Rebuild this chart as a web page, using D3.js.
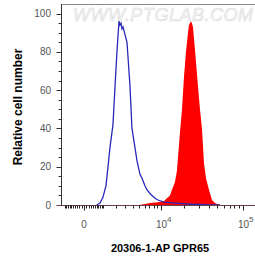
<!DOCTYPE html>
<html>
<head>
<meta charset="utf-8">
<script src="https://cdn.jsdelivr.net/npm/d3@7"></script>
<style>
  body { margin: 0; background: #fff; }
  svg { display: block; }
</style>
</head>
<body>
<script>
// histogram overlay, logicle-like x axis (approximated with symlog)

var width = 255,
    height = 257;

// blue = control, red = stained sample
var controlX   = [600, 800, 980, 1190, 1340, 1490, 1740, 1920, 2100, 2300, 2400, 2510, 2610, 2730, 2960, 3200, 3590, 3860, 4310, 4630, 5140, 5500, 6070, 6480, 7150, 7620, 8380, 9190, 11040, 13210, 15300, 17680, 21000, 25000, 31100, 41000, 54000];
var controlCnt = [0,   1,   4,   10,   20,   30,   42,   62,   80,   96,   94,   95,   92,   93,   89,   85,   62,   40,   30,   23,   16,   14,   10,   8,    6,    5,    3.5,  2.6,  1.5,   1.2,   1,     0.8,   0.6,   0.4,   0.3,   0.1,   0];

var sampleX   = [5000, 6070, 7150, 9190, 11040, 11380, 13210, 14010, 15300, 16210, 17680, 18740, 19830, 21000, 22230, 22850, 23500, 24180, 24870, 25590, 27070, 29430, 31110, 32880, 34780, 36760, 39910, 43350, 47080, 51080, 54000];
var sampleCnt = [0,    0.5,  1,    1.5,  2,     2.6,   5,     8,     12,    18,    38,    50,    67,    80,    90,    94,    95,    96,    95,    93,    81,    62,    50,    40,    22,    14,    8,     2.6,   1,     0.3,   0];

var xMin = -1260, xMax = 139000;
var yMax = 105;
var yTicks = [0, 20, 40, 60, 80, 100];
var xMajor = [0, 1e4, 1e5];
var xMajorLabels = [["0", ""], ["10", "4"], ["10", "5"]];

var margin = {left: 61, top: 4, right: 0, bottom: 52};

var x = d3.scaleSymlog().constant(1500)
    .domain([xMin, xMax])
    .range([margin.left, width - margin.right]);

var y = d3.scaleLinear()
    .domain([0, yMax])
    .range([height - margin.bottom, margin.top]);

var svg = d3.select("body").append("svg")
    .attr("width", width)
    .attr("height", height)
    .style("font-family", "'Liberation Sans', Arial, sans-serif");

svg.append("defs").append("clipPath").attr("id", "plot")
  .append("rect")
    .attr("x", margin.left).attr("y", margin.top)
    .attr("width", width - margin.left).attr("height", y(0) - margin.top + 0.5);

// watermark
svg.append("text")
    .attr("x", 73).attr("y", 21)
    .attr("textLength", 180)
    .attr("lengthAdjust", "spacing")
    .style("font-size", "18px")
    .style("font-style", "italic")
    .style("fill", "#f6f6f6")
    .style("stroke", "#d6d6d6")
    .style("stroke-width", 0.5)
    .text("WWW.PTGLAB.COM");

var g = svg.append("g").attr("clip-path", "url(#plot)");

var sample = sampleX.map((v, i) => [v, sampleCnt[i]]);
var control = controlX.map((v, i) => [v, controlCnt[i]]);

g.append("path")
    .datum(sample)
    .attr("fill", "#ff0000")
    .attr("d", d3.area().x(d => x(d[0])).y0(y(0)).y1(d => y(d[1])));

g.append("path")
    .datum(control)
    .attr("fill", "none")
    .attr("stroke", "#2828b8")
    .attr("stroke-width", 1.3)
    .attr("d", d3.line().x(d => x(d[0])).y(d => y(d[1])));

// top frame
svg.append("line")
    .attr("x1", margin.left).attr("x2", width)
    .attr("y1", margin.top + 0.5).attr("y2", margin.top + 0.5)
    .attr("stroke", "#8a8a8a");

// y axis
var yMinor = d3.range(0, 101, 5).filter(v => v % 20 != 0);
var yAxis = svg.append("g").attr("transform", "translate(" + (margin.left + 0.5) + ",0)");
yAxis.append("line")
    .attr("y1", margin.top).attr("y2", y(0))
    .attr("stroke", "#333");
yAxis.selectAll(".maj").data(yTicks).enter().append("line")
    .attr("x1", -5).attr("x2", 0)
    .attr("y1", d => Math.round(y(d)) + 0.5).attr("y2", d => Math.round(y(d)) + 0.5)
    .attr("stroke", "#333");
yAxis.selectAll(".min").data(yMinor).enter().append("line")
    .attr("x1", -3).attr("x2", 0)
    .attr("y1", d => Math.round(y(d)) + 0.5).attr("y2", d => Math.round(y(d)) + 0.5)
    .attr("stroke", "#333");
yAxis.selectAll("text").data(yTicks).enter().append("text")
    .attr("x", -10.5).attr("y", d => y(d) + 3.5)
    .attr("text-anchor", "end")
    .style("font-size", "10px")
    .style("fill", "#555")
    .text(d => d);

// x axis
var xMinor = d3.range(-1000, 1001, 100).filter(v => v != 0)
    .concat(d3.range(2000, 10000, 1000))
    .concat(d3.range(20000, 100000, 10000));
var x0 = Math.round(y(0)) + 0.5;
var xAxis = svg.append("g");
xAxis.append("line")
    .attr("x1", margin.left - 4).attr("x2", width)
    .attr("y1", x0).attr("y2", x0)
    .attr("stroke", "#6a4048");
xAxis.selectAll(".min").data(xMinor).enter().append("line")
    .attr("x1", d => Math.round(x(d)) + 0.5).attr("x2", d => Math.round(x(d)) + 0.5)
    .attr("y1", x0).attr("y2", x0 + 3)
    .attr("stroke", "#222");
xAxis.selectAll(".maj").data(xMajor).enter().append("line")
    .attr("x1", d => Math.round(x(d)) + 0.5).attr("x2", d => Math.round(x(d)) + 0.5)
    .attr("y1", x0).attr("y2", x0 + 5)
    .attr("stroke", "#222");
var lab = xAxis.selectAll(".lab").data(xMajor).enter().append("text")
    .attr("x", (d, i) => x(d) + (i ? 3 : 0))
    .attr("y", 228)
    .attr("text-anchor", "middle")
    .style("font-size", "10px")
    .style("fill", "#555");
lab.append("tspan").text((d, i) => xMajorLabels[i][0]);
lab.append("tspan")
    .attr("dy", -6)
    .style("font-size", "8px")
    .text((d, i) => xMajorLabels[i][1]);

// titles
svg.append("text")
    .attr("x", 160).attr("y", 252)
    .attr("text-anchor", "middle")
    .style("font-size", "11px")
    .style("font-weight", "bold")
    .text("20306-1-AP GPR65");

svg.append("text")
    .attr("transform", "translate(22,107) rotate(-90)")
    .attr("text-anchor", "middle")
    .style("font-size", "12px")
    .style("font-weight", "bold")
    .text("Relative cell number");
</script>
</body>
</html>
